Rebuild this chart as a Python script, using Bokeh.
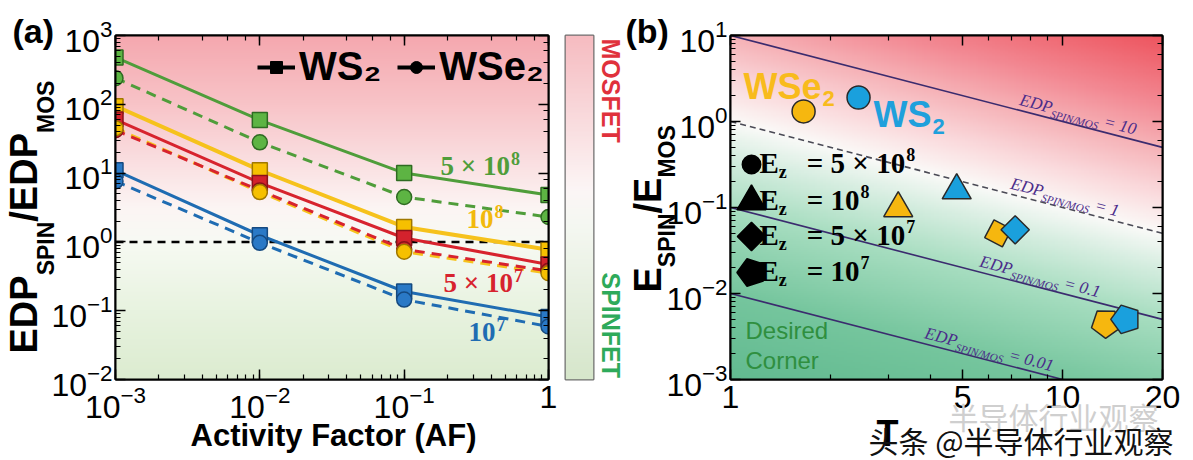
import math
import numpy as np
from bokeh.plotting import figure
from bokeh.layouts import row, column
from bokeh.models import (LogAxis, FixedTicker, PrintfTickFormatter, Label, Span,
                          Legend, LegendItem, CustomJSTickFormatter, Range1d)
from bokeh.embed import file_html
from bokeh.resources import INLINE

# ---------------- data : panel (a) ----------------
activity_factor = [1e-3, 1e-2, 1e-1, 1.0]
ws2_ez_5e8 = [480, 59, 10.0, 4.8]
wse2_ez_5e8 = [240, 28, 4.5, 2.3]
ws2_ez_1e8 = [94, 11, 1.65, 0.77]
wse2_ez_1e8 = [45, 5.3, 0.72, 0.35]
ws2_ez_5e7 = [60, 7.2, 1.14, 0.47]
wse2_ez_5e7 = [42, 5.6, 0.78, 0.38]
ws2_ez_1e7 = [11, 1.25, 0.19, 0.081]
wse2_ez_1e7 = [7.6, 0.97, 0.145, 0.059]
ez_label_base = ["5 × 10", "10", "5 × 10", "10"]
ez_label_exp = ["8", "8", "7", "7"]
edp_break_even = 1.0

# ---------------- data : panel (b) ----------------
t_ratio_ws2 = [2.43, 4.8, 7.2, 15.5]
e_ratio_ws2 = [1.9, 0.158, 0.055, 0.005]
t_ratio_wse2 = [1.66, 3.2, 6.4, 13.5]
e_ratio_wse2 = [1.31, 0.098, 0.05, 0.0045]
ez_markers = ["circle", "triangle", "diamond", "pentagon"]
edp_iso_levels = [10, 1, 0.1, 0.01]
edp_iso_text = ["10", "1", "0.1", "0.01"]
b_x_ticks = [1, 5, 10, 20]
b_x_minor = [2, 3, 4, 6, 7, 8, 9]

# ---------------- styling / geometry ----------------
line_cols = ["#4f9d3a", "#f6c21c", "#d7232e", "#1f6cb2"]
fill_cols = ["#5db443", "#f6c000", "#d3222d", "#2a79c6"]
edge_cols = ["#2f6b22", "#a07800", "#8a1219", "#154a80"]
YEL, BLU = "#f6b70f", "#1aa0dd"

W, H = 1193, 460
TOP = 35
A_W, A_L, A_R, A_B = 558, 115, 548, 380
C_X0, C_W, C_L, C_R, C_B = 558, 64, 565, 593, 380
B_X0, B_W, B_L, B_R, B_B = 622, 571, 730, 1162, 379
LB20 = math.log10(20)
MID = 0.34   # distance baseline -> text middle, in em

ARIAL_B = {'E': .667, 'D': .722, 'P': .667, 'S': .667, 'I': .278, 'N': .722, 'M': .833,
           'O': .778, '/': .278, 'W': .944, 'e': .556, '2': .556, ' ': .278, 'F': .611, 'T': .611}
TIMES_B = {'E': .667, 'z': .444, '=': .57, '×': .57, ' ': .25, '5': .5, '1': .5, '0': .5,
           '7': .5, '8': .5}
TIMES_I = {'E': .611, 'D': .722, 'P': .611, 'S': .5, 'I': .333, 'N': .667, '/': .278, 'M': .833,
           'O': .722, ' ': .25, '=': .675, '1': .5, '0': .5, '.': .25}


def tw(text, size, table):
    return sum(table.get(c, 0.55) for c in text) * size


# page pixel -> frame-relative screen units (origin = frame bottom-left)
def scrA(sx, sy):
    return sx - A_L, A_B - sy


def scrB(sx, sy):
    return sx - B_L, B_B - sy


def scrPage(sx, sy):
    # overlay figure covers the whole page, frame = canvas
    return sx, H - sy


def dataB(sx, sy):
    return (10 ** ((sx - B_L) / (B_R - B_L) * LB20),
            10 ** (1 - (sy - TOP) / (B_B - TOP) * 4))


def compose(p, conv, sx, sy, pieces, angle=0.0, font="Liberation Sans", style="bold",
            color="black", table=ARIAL_B, align="left"):
    """sx, sy: page position of the baseline start of the first piece."""
    along = (math.cos(angle), -math.sin(angle))
    down = (math.sin(angle), math.cos(angle))
    pos = 0.0
    for text, size, shift, gap in pieces:
        pos += gap
        off = shift - MID * size
        px = sx + pos * along[0] + off * down[0]
        py = sy + pos * along[1] + off * down[1]
        x, y = conv(px, py)
        p.add_layout(Label(x=x, y=y, x_units="screen", y_units="screen", text=text,
                           angle=angle, text_font=font, text_font_style=style,
                           text_font_size=f"{size}px", text_color=color, text_align=align,
                           text_baseline="middle"))
        pos += tw(text, size, table)


BLANK = CustomJSTickFormatter(code="return ''")


def style_axis(ax, show=True, size="32px"):
    ax.axis_line_width = 2
    ax.axis_line_color = "black"
    ax.major_tick_in = 10
    ax.major_tick_out = 0
    ax.minor_tick_in = 5
    ax.minor_tick_out = 0
    ax.major_tick_line_width = 1.5
    ax.minor_tick_line_width = 1.2
    ax.major_label_text_font = "Liberation Sans"
    ax.major_label_text_color = "black"
    if show:
        ax.major_label_text_font_size = size
        ax.major_label_standoff = 3
    else:
        ax.formatter = BLANK
        ax.major_label_text_font_size = "1px"
        ax.major_label_standoff = 0


def rgba_image(values, stops):
    ts = [s[0] for s in stops]
    arr = np.zeros(values.shape + (4,), dtype=np.uint8)
    for k in range(3):
        arr[..., k] = np.interp(values, ts, [s[1][k] for s in stops]).astype(np.uint8)
    arr[..., 3] = 255
    img = np.zeros(values.shape, dtype=np.uint32)
    img.view(np.uint8).reshape(values.shape + (4,))[:] = arr
    return img


# =============== panel (a) ===============
pA = figure(width=A_W, height=H, x_axis_type="log", y_axis_type="log",
            x_range=(1e-3, 1), y_range=(1e-2, 1e3), output_backend="svg",
            toolbar_location=None, min_border_left=A_L, min_border_right=A_W - A_R,
            min_border_top=TOP, min_border_bottom=H - A_B)
pA.grid.visible = False
pA.outline_line_color = "black"
pA.outline_line_width = 2
pA.border_fill_color = "white"
style_axis(pA.xaxis[0])
style_axis(pA.yaxis[0])
pA.xaxis[0].major_label_overrides = {1: "1"}
pA.xaxis[0].major_label_standoff = 6
axr = LogAxis()
style_axis(axr, show=False)
pA.add_layout(axr, "right")
axt = LogAxis()
style_axis(axt, show=False)
pA.add_layout(axt, "above")

lyA = np.linspace(-2, 3, 300)[:, None] * np.ones((1, 2))
A_stops = [(-2, (220, 236, 208)), (-1, (232, 243, 224)), (0, (247, 250, 243)),
           (0.5, (252, 245, 244)), (1.2, (250, 222, 224)), (2, (248, 196, 200)),
           (3, (245, 168, 175))]
rA = pA.image_rgba(image=[rgba_image(lyA, A_stops)], x=1e-3, y=1e-2, dw=1 - 1e-3, dh=1e3 - 1e-2)
rA.level = "image"
pA.add_layout(Span(location=edp_break_even, dimension="width", line_color="black",
                   line_dash="8 6", line_width=2.5, level="underlay"))

ws2_all = [ws2_ez_5e8, ws2_ez_1e8, ws2_ez_5e7, ws2_ez_1e7]
wse2_all = [wse2_ez_5e8, wse2_ez_1e8, wse2_ez_5e7, wse2_ez_1e7]
for i in range(4):
    pA.line(activity_factor, wse2_all[i], line_color=line_cols[i], line_width=3, line_dash="10 7")
    pA.line(activity_factor, ws2_all[i], line_color=line_cols[i],
            line_width=4 if i == 1 else 3)
for i in range(4):
    pA.scatter(activity_factor, ws2_all[i], marker="square", size=15, fill_color=fill_cols[i],
               line_color=edge_cols[i], line_width=1.5)
for i in [0, 2, 1, 3]:
    pA.scatter(activity_factor, wse2_all[i], marker="circle", size=15, fill_color=fill_cols[i],
               line_color=edge_cols[i], line_width=1.5)

kl1 = pA.line([1e-9], [1e-9], line_color="black", line_width=4)
ks1 = pA.scatter([1e-9], [1e-9], marker="square", size=15, fill_color="black", line_color="black")
kl2 = pA.line([1e-9], [1e-9], line_color="black", line_width=4)
ks2 = pA.scatter([1e-9], [1e-9], marker="circle", size=15, fill_color="black", line_color="black")
legA = Legend(items=[LegendItem(label="WS₂", renderers=[kl1, ks1]),
                     LegendItem(label="WSe₂", renderers=[kl2, ks2])],
              orientation="horizontal", location=(142, 290),
              label_text_font="Liberation Sans", label_text_font_style="bold",
              label_text_font_size="40px", label_text_color="black",
              glyph_width=38, glyph_height=30,
              label_standoff=4, spacing=16, padding=0, margin=0,
              border_line_alpha=0, background_fill_alpha=0)
pA.add_layout(legA)

ez_lab_pos = [(440, 176), (466, 229), (443, 293), (468, 342)]
for i in range(4):
    sx, sy = ez_lab_pos[i]
    compose(pA, scrA, sx, sy, [(ez_label_base[i], 27, 0, 0), (ez_label_exp[i], 18, -11, 1)],
            font="Liberation Serif", color=line_cols[i] if i != 1 else "#f2b90c", table=TIMES_B)

# =============== colorbar ===============
pC = figure(width=C_W, height=H, x_range=(0, 1), y_range=(0, 1), x_axis_location=None,
            y_axis_location=None, output_backend="svg", toolbar_location=None,
            min_border_left=C_L - C_X0, min_border_right=C_X0 + C_W - C_R,
            min_border_top=TOP, min_border_bottom=H - C_B)
pC.grid.visible = False
pC.outline_line_color = "#6e6e6e"
pC.outline_line_width = 2
pC.border_fill_color = "white"
lyC = np.linspace(0, 1, 200)[:, None] * np.ones((1, 2))
C_stops = [(0, (214, 230, 203)), (0.45, (245, 248, 242)), (0.55, (252, 246, 246)),
           (1, (246, 188, 193))]
rC = pC.image_rgba(image=[rgba_image(lyC, C_stops)], x=0, y=0, dw=1, dh=1)
rC.level = "image"

# =============== panel (b) ===============
pB = figure(width=B_W, height=H, x_axis_type="log", y_axis_type="log",
            x_range=(1, 20), y_range=(1e-3, 10), output_backend="svg",
            toolbar_location=None, min_border_left=B_L - B_X0, min_border_right=B_X0 + B_W - B_R,
            min_border_top=TOP, min_border_bottom=H - B_B)
pB.grid.visible = False
pB.outline_line_color = "black"
pB.outline_line_width = 2
pB.border_fill_color = "white"
style_axis(pB.xaxis[0])
style_axis(pB.yaxis[0])
pB.xaxis[0].ticker = FixedTicker(ticks=b_x_ticks, minor_ticks=b_x_minor)
pB.xaxis[0].formatter = PrintfTickFormatter(format="%d")
pB.xaxis[0].major_label_standoff = 6
bxr = LogAxis()
style_axis(bxr, show=False)
pB.add_layout(bxr, "right")
bxt = LogAxis(ticker=FixedTicker(ticks=b_x_ticks, minor_ticks=b_x_minor))
style_axis(bxt, show=False)
pB.add_layout(bxt, "above")

nB = 160
lxB = np.linspace(0, LB20, nB)
lyB = np.linspace(-3, 1, nB)
tB = lxB[None, :] + lyB[:, None]
B_stops = [(-3.3, (92, 183, 140)), (-2, (118, 198, 158)), (-1, (168, 222, 193)),
           (-0.4, (215, 238, 225)), (0, (250, 250, 248)), (0.5, (250, 215, 218)),
           (1, (246, 178, 183)), (1.5, (243, 138, 148)), (2.3, (238, 85, 95))]
rB = pB.image_rgba(image=[rgba_image(tB, B_stops)], x=1, y=1e-3, dw=19, dh=10 - 1e-3)
rB.level = "image"

t_ends = [1, 20]
theta = -math.atan(((B_B - TOP) / 4) / ((B_R - B_L) / LB20))
iso_label_sx = [1017, 1008, 977, 922]
for c, txt, lsx in zip(edp_iso_levels, edp_iso_text, iso_label_sx):
    if c == 1:
        pB.line(t_ends, [c / t for t in t_ends], line_color="#4a4a55", line_width=1.6,
                line_dash="6 4")
    else:
        pB.line(t_ends, [c / t for t in t_ends], line_color="#3b2b6e", line_width=1.6)
    tt = 10 ** ((lsx - B_L) / (B_R - B_L) * LB20)
    lsy = TOP + (1 - math.log10(c / tt)) * (B_B - TOP) / 4
    up = (-math.sin(theta), -math.cos(theta))
    compose(pB, scrB, lsx + 5 * up[0], lsy + 5 * up[1],
            [("EDP", 17, 0, 0), ("SPIN/MOS", 11, 4, 0), ("= " + txt, 17, 0, 5)],
            angle=theta, font="Liberation Serif", style="italic", color="#4b2c8a",
            table=TIMES_I)

has_ngon = hasattr(pB, "ngon")


def draw_marker(p, marker, xs, ys, fill, line, size_scale=1.0, ang=0.0):
    if marker == "circle":
        p.scatter(xs, ys, marker="circle", size=23 * size_scale, fill_color=fill,
                  line_color=line, line_width=1.5)
    elif marker == "triangle":
        p.scatter(xs, ys, marker="triangle", size=29 * size_scale, fill_color=fill,
                  line_color=line, line_width=1.5)
    elif marker == "diamond":
        p.scatter(xs, ys, marker="square", size=20 * size_scale, angle=math.pi / 4 + ang,
                  fill_color=fill, line_color=line, line_width=1.5)
    else:
        if has_ngon:
            p.ngon(xs, ys, radius=15 * size_scale, radius_units="screen", n=5,
                   angle=math.pi / 2 + ang, fill_color=fill, line_color=line, line_width=1.5)
        else:
            p.scatter(xs, ys, marker="hex", size=28 * size_scale, fill_color=fill,
                      line_color=line, line_width=1.5)


for i, m in enumerate(ez_markers):
    draw_marker(pB, m, [t_ratio_wse2[i]], [e_ratio_wse2[i]], YEL, "#2a2a2a",
                ang=0.3 if m in ("diamond", "pentagon") else 0.0)
    draw_marker(pB, m, [t_ratio_ws2[i]], [e_ratio_ws2[i]], BLU, "#2a2a2a")

compose(pB, scrB, 743, 98, [("WSe", 36, 0, 0), ("2", 22, 7, 1)], color="#f8bb1c")
compose(pB, scrB, 873, 126, [("WS", 36, 0, 0), ("2", 22, 7, 1)], color="#1fa0dc")

leg_rows_sy = [164, 201, 236, 272]
leg_exp = ["8", "8", "7", "7"]
leg_base = ["5 × 10", "10", "5 × 10", "10"]
for i, m in enumerate(ez_markers):
    mx, my = dataB(751, leg_rows_sy[i])
    draw_marker(pB, m, [mx], [my], "black", "black",
                size_scale={"circle": 0.8, "triangle": 1.0, "diamond": 1.0, "pentagon": 0.97}[m])
    compose(pB, scrB, 759, leg_rows_sy[i] + 8,
            [("E", 29, 0, 0), ("z", 18, 6, 0), ("= " + leg_base[i], 29, 0, 20),
             (leg_exp[i], 18, -12, 1)], font="Liberation Serif", table=TIMES_B)

compose(pB, scrB, 745, 338, [("Desired", 24, 0, 0)], style="normal", color="#2f8f3f")
compose(pB, scrB, 745, 368, [("Corner", 24, 0, 0)], style="normal", color="#2f8f3f")

# =============== transparent overlay for the texts outside the plot frames ===============
pO = figure(width=W, height=H, x_range=Range1d(0, W), y_range=Range1d(0, H),
            x_axis_location=None, y_axis_location=None, output_backend="svg",
            toolbar_location=None, min_border=0, margin=(-H, 0, 0, 0))
pO.grid.visible = False
pO.outline_line_color = None
pO.background_fill_alpha = 0
pO.border_fill_alpha = 0

compose(pO, scrPage, 12, 42, [("(a)", 34, 0, 0)])
compose(pO, scrPage, 36, 353, [("EDP", 38, 0, 0), ("SPIN", 23, 17, 0), ("/EDP", 38, 0, 0),
                               ("MOS", 23, 17, 0)], angle=math.pi / 2)
compose(pO, scrPage, 333, 446, [("Activity Factor (AF)", 31, 0, 0)], align="center")
compose(pO, scrPage, 602, 38, [("MOSFET", 25, 0, 0)], angle=-math.pi / 2, color="#e0313c")
compose(pO, scrPage, 602, 272, [("SPINFET", 25, 0, 0)], angle=-math.pi / 2, color="#2eaa5a")
compose(pO, scrPage, 625, 42, [("(b)", 34, 0, 0)])
compose(pO, scrPage, 660, 292, [("E", 38, 0, 0), ("SPIN", 23, 14, 0), ("/E", 38, 0, 0),
                                ("MOS", 23, 14, 0)], angle=math.pi / 2)
compose(pO, scrPage, 876, 445, [("T", 36, 0, 0)])
x_, y_ = scrPage(948, 415)
pO.add_layout(Label(x=x_, y=y_, x_units="screen", y_units="screen", text="半导体行业观察",
                    text_font="Noto Sans CJK SC", text_font_size="30px", text_color="#cfcfcf",
                    text_baseline="middle"))
x_, y_ = scrPage(868, 439)
pO.add_layout(Label(x=x_, y=y_, x_units="screen", y_units="screen", text="头条 @半导体行业观察",
                    text_font="Noto Sans CJK SC", text_font_size="30px", text_color="#111111",
                    text_baseline="middle"))

layout = column(row(pA, pC, pB), pO)
open("out.html", "w").write(file_html(layout, INLINE))
